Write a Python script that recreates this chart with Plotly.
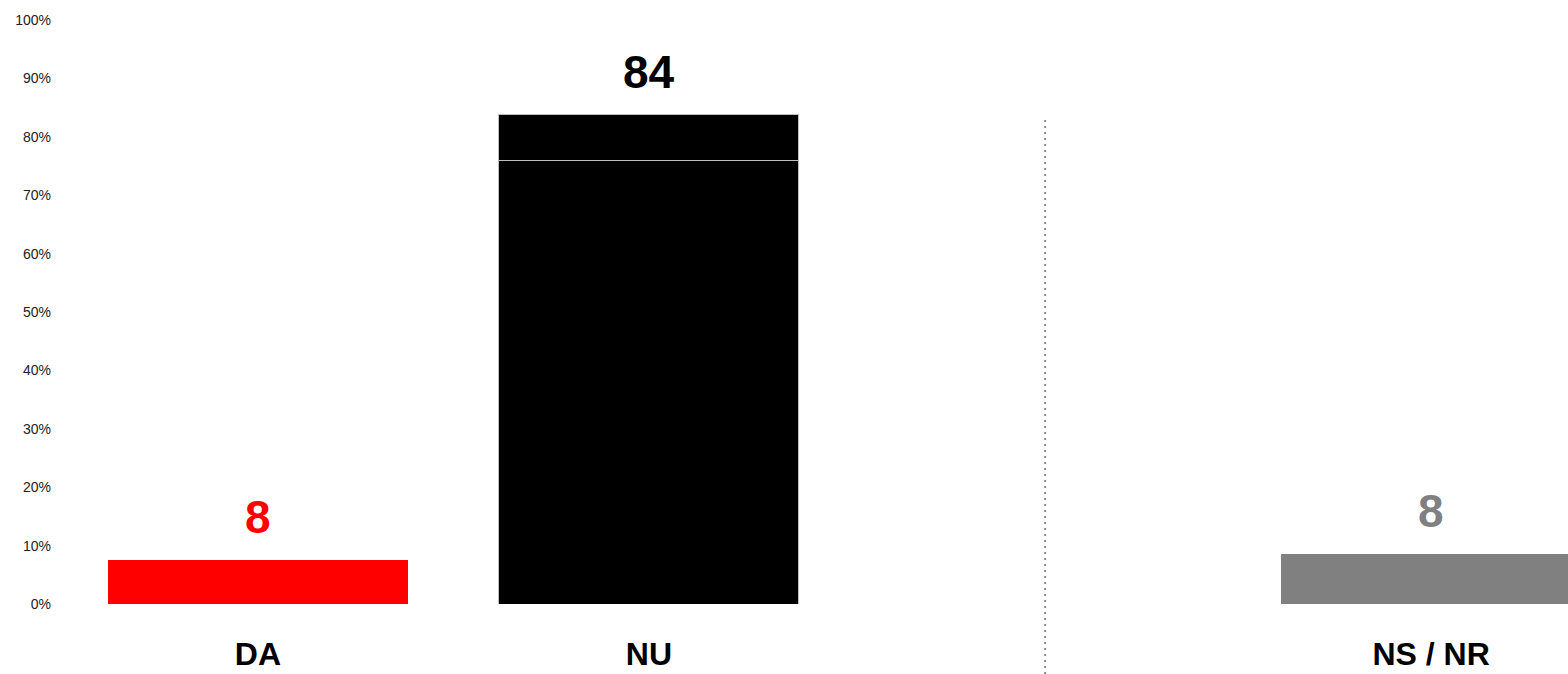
import plotly.graph_objects as go

# ---- data ----
categories = ["DA", "NU", " ", "NS / NR"]
bar_cats = ["DA", "NU", "NS / NR"]
base_values = [7.6, 75.9, 8.5]          # main segment
nu_top_value = 7.9                      # upper segment of NU bar
value_labels = ["8", "84", "8"]
bar_colors = ["#ff0000", "#000000", "#808080"]
label_colors = ["#ff0000", "#000000", "#808080"]
y_ticks = [0, 10, 20, 30, 40, 50, 60, 70, 80, 90, 100]
y_tick_text = [f"{v}%" for v in y_ticks]

totals = [base_values[0], base_values[1] + nu_top_value, base_values[2]]

W, H = 1568, 674
ML, MR, MT, MB = 60, 0, 20, 70
x_range = [-0.506, 3.35]
sep_x = 2.013

fig = go.Figure()
fig.add_trace(go.Bar(
    x=bar_cats, y=base_values, width=0.767,
    marker=dict(color=bar_colors,
                line=dict(color=["rgba(0,0,0,0)", "#bdbdbd", "rgba(0,0,0,0)"], width=1)),
    hoverinfo="skip", showlegend=False,
))
fig.add_trace(go.Bar(
    x=["NU"], y=[nu_top_value], width=0.767,
    marker=dict(color="#000000", line=dict(color="#bdbdbd", width=1)),
    hoverinfo="skip", showlegend=False,
))

for cat, tot, txt, col in zip(bar_cats, totals, value_labels, label_colors):
    fig.add_annotation(x=cat, y=tot, text=f"<b>{txt}</b>", showarrow=False,
                       yanchor="middle", yshift=43,
                       font=dict(family="Liberation Sans, Arial", size=46, color=col))

# dotted separator
frac = (sep_x - x_range[0]) / (x_range[1] - x_range[0])
plot_h = H - MT - MB
fig.add_shape(type="line", xref="paper", yref="paper",
              x0=frac, x1=frac, y0=-MB / plot_h, y1=(604.5 - 119) / plot_h,
              line=dict(color="#8c8c8c", width=2, dash="2px,4px"))

fig.update_layout(
    width=W, height=H,
    margin=dict(l=ML, r=MR, t=MT, b=MB),
    barmode="stack",
    plot_bgcolor="white", paper_bgcolor="white",
    font=dict(family="Liberation Sans, Arial"),
    xaxis=dict(type="category", categoryorder="array", categoryarray=categories,
               range=x_range, showgrid=False, zeroline=False, showline=False,
               tickvals=bar_cats, ticktext=[f"<b>{c}</b>" for c in bar_cats],
               tickfont=dict(size=32, color="#000000"), ticklabelstandoff=28),
    yaxis=dict(range=[0, 100], tickvals=y_ticks, ticktext=y_tick_text,
               showgrid=False, zeroline=False, showline=False,
               tickfont=dict(size=14, color="#222222"), ticklabelstandoff=8),
)

fig.write_html("out.html",
               config={"displayModeBar": False, "staticPlot": True},
               post_script="document.body.style.margin='0';document.body.style.overflow='hidden';")
